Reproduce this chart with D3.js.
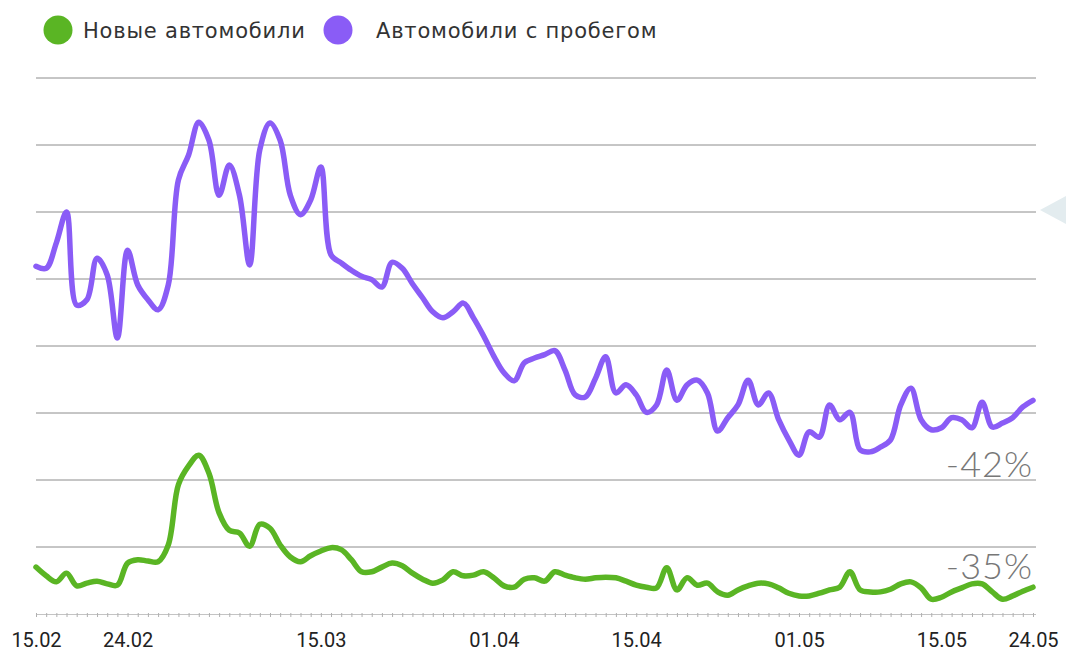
<!DOCTYPE html>
<html><head><meta charset="utf-8">
<script src="https://cdn.jsdelivr.net/npm/d3@7"></script>
<style>
html,body{margin:0;padding:0;background:#fff;}
svg{display:block;font-family:"DejaVu Sans",sans-serif;}
</style></head>
<body><svg id="chart" width="1066" height="653"></svg>
<script>
const startDate = "2022-02-15";
const endDate = "2022-05-24";
const seriesNames = ["Новые автомобили", "Автомобили с пробегом"];
const seriesColors = ["#5ab524", "#8a5cf6"];
const tickDates = ["2022-02-15","2022-02-24","2022-03-15","2022-04-01","2022-04-15","2022-05-01","2022-05-15","2022-05-24"];
const tickLabels = ["15.02","24.02","15.03","01.04","15.04","01.05","15.05","24.05"];
const gridValues = [10,20,30,40,50,60,70,80];
const usedCars = [51.9,51.6,55.4,60.0,46.1,46.9,53.1,50.6,41.2,54.3,49.1,46.9,45.4,49.1,64.8,68.5,73.4,70.7,62.5,67.0,62.5,52.1,69.3,73.3,70.7,62.5,59.6,61.8,66.7,53.6,52.4,51.3,50.4,49.9,48.8,52.5,51.6,49.3,47.2,45.1,44.2,45.1,46.4,44.2,41.5,38.5,36.0,34.8,37.5,38.2,38.7,39.3,36.4,32.7,32.4,35.2,38.4,33.0,34.2,32.7,30.1,31.2,36.4,31.9,34.2,34.9,33.0,27.3,29.3,31.2,34.9,31.2,33.0,29.0,26.0,23.7,27.2,26.4,31.2,29.0,30.1,24.5,24.2,24.9,26.0,31.2,33.7,29.0,27.5,27.8,29.3,29.0,27.8,31.6,27.9,28.5,29.3,30.9,31.9];
const newCars = [7.0,5.7,4.8,6.1,4.2,4.6,4.9,4.5,4.3,7.6,8.1,7.9,7.8,10.3,19.3,22.1,23.7,21.0,15.1,12.5,12.1,10.1,13.4,12.8,10.3,8.5,7.8,8.7,9.4,9.9,9.6,8.1,6.3,6.3,7.0,7.6,7.2,6.1,5.2,4.6,5.1,6.3,5.7,5.8,6.3,5.4,4.2,4.0,5.2,5.4,4.9,6.3,5.8,5.4,5.2,5.4,5.5,5.4,4.9,4.3,4.0,3.9,6.9,3.6,5.4,4.3,4.6,3.3,2.8,3.6,4.2,4.6,4.5,3.9,3.1,2.7,2.7,3.1,3.6,4.0,6.3,3.6,3.3,3.3,3.7,4.5,4.8,3.9,2.2,2.5,3.3,3.9,4.5,4.5,3.3,2.2,2.7,3.4,4.0];
const changeLabels = ["-35%","-42%"];

const svg = d3.select("#chart");
const parse = d3.utcParse("%Y-%m-%d");
const days = d3.utcDay.range(parse(startDate), d3.utcDay.offset(parse(endDate), 1));

const x = d3.scaleUtc().domain([parse(startDate), parse(endDate)]).range([36, 1033]);
const y = d3.scaleLinear().domain([0, 80]).range([614, 78]);

// grid
svg.append("g").selectAll("line").data(gridValues).join("line")
  .attr("x1", 36).attr("x2", 1036)
  .attr("y1", d => y(d)).attr("y2", d => y(d))
  .attr("stroke", "#8c8c8c").attr("stroke-width", 1);

// decorative pointer at right edge
svg.append("path").attr("d", "M1040,210 L1066,196 L1066,224 Z").attr("fill", "#e3ecef");

// x axis
const axis = d3.axisBottom(x).tickValues(days).tickSize(3).tickFormat("");
const ag = svg.append("g").attr("transform", `translate(0,${y(0)})`).call(axis);
ag.select(".domain").attr("stroke", "#c4c4c4").attr("d", "M36,0.5H1036");
ag.selectAll(".tick line").attr("stroke", "#b0b0b0").attr("y1", -1);

svg.append("g").selectAll("text").data(tickDates).join("text")
  .attr("x", d => x(parse(d)) + 0.5)
  .attr("y", 647)
  .attr("text-anchor", "middle")
  .attr("font-family", "Roboto, sans-serif")
  .attr("font-size", 20)
  .attr("fill", "#222")
  .text((d, i) => tickLabels[i]);

// lines
const line = d3.line()
  .x((d, i) => x(days[i]))
  .y(d => y(d))
  .curve(d3.curveCatmullRom.alpha(0.5));

[newCars, usedCars].forEach((s, k) => {
  svg.append("path").datum(s)
    .attr("d", line)
    .attr("fill", "none")
    .attr("stroke", seriesColors[k])
    .attr("stroke-width", 5.5)
    .attr("stroke-linejoin", "round")
    .attr("stroke-linecap", "round");
});

// change labels
const pctY = [579, 477];
changeLabels.forEach((t, i) => {
  svg.append("text").attr("x", 1033).attr("y", pctY[i]).attr("text-anchor", "end")
    .attr("font-family", "Lato, sans-serif")
    .attr("font-size", 36).attr("font-weight", 300).attr("letter-spacing", 1)
    .attr("fill", "#777").text(t);
});

// legend
const legendX = [58, 338];
const lg = svg.append("g");
seriesNames.forEach((n, i) => {
  lg.append("circle").attr("cx", legendX[i]).attr("cy", 30).attr("r", 14.5).attr("fill", seriesColors[i]);
  lg.append("text").attr("x", legendX[i] + (i === 0 ? 25 : 38)).attr("y", 38)
    .attr("font-size", 21).attr("letter-spacing", 0.8).attr("fill", "#333").text(n);
});
</script></body></html>
